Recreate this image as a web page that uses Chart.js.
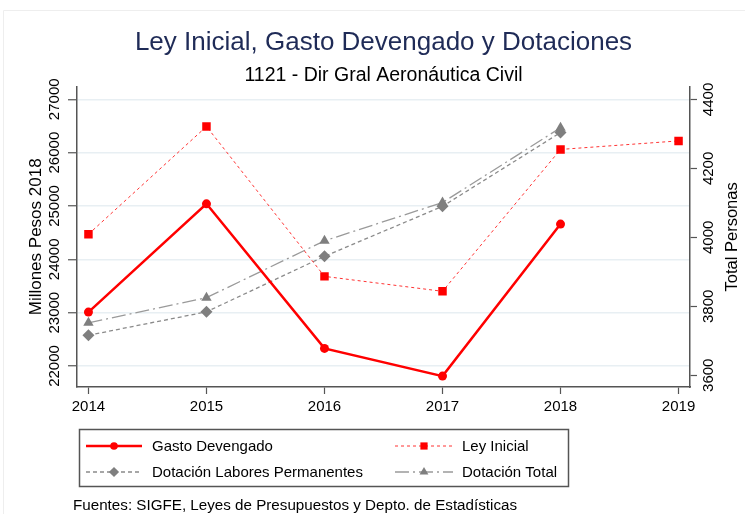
<!DOCTYPE html>
<html>
<head>
<meta charset="utf-8">
<script src="https://cdn.jsdelivr.net/npm/chart.js@4/dist/chart.umd.min.js"></script>
<style>
  html, body { margin: 0; padding: 0; background: #fff; }
  #wrap { position: relative; width: 745px; height: 514px; }
</style>
</head>
<body>
<div id="wrap"><canvas id="c" width="745" height="514"></canvas></div>
<script>
// ---- Data ----
const years = [2014, 2015, 2016, 2017, 2018, 2019];
const gastoDevengado = [23010, 25040, 22330, 21810, 24660, null];        // Millones Pesos 2018
const leyInicial = [24470, 26490, 23680, 23400, 26060, 26220];           // Millones Pesos 2018
const dotacionLaboresPermanentes = [3716, 3784, 3945, 4090, 4304, null]; // Total Personas
const dotacionTotal = [3752, 3825, 3990, 4101, 4318, null];              // Total Personas
const leftTicks = [22000, 23000, 24000, 25000, 26000, 27000];
const rightTicks = [3600, 3800, 4000, 4200, 4400];
const xTicks = [2014, 2015, 2016, 2017, 2018, 2019];

const FONT = "'Liberation Sans', Arial, Helvetica, sans-serif";
const pts = arr => years.map((y, i) => ({ x: y, y: arr[i] }));

const datasets = [
  { label: 'Gasto Devengado', data: pts(gastoDevengado), yAxisID: 'yL',
    borderColor: '#ff0000', backgroundColor: '#ff0000', borderWidth: 2.5,
    pointStyle: 'circle', pointRadius: 4.5, pointBorderWidth: 0, order: 1 },
  { label: 'Ley Inicial', data: pts(leyInicial), yAxisID: 'yL',
    borderColor: '#ff3333', backgroundColor: '#ff0000', borderWidth: 1, borderDash: [3, 3],
    pointStyle: 'rect', pointRadius: 6, pointBorderWidth: 0, order: 2 },
  { label: 'Dotación Labores Permanentes', data: pts(dotacionLaboresPermanentes), yAxisID: 'yR',
    borderColor: '#8a8a8a', backgroundColor: '#7f7f7f', borderWidth: 1.3, borderDash: [4, 3],
    pointStyle: 'rectRot', pointRadius: 6, pointBorderWidth: 0, order: 3 },
  { label: 'Dotación Total', data: pts(dotacionTotal), yAxisID: 'yR',
    borderColor: '#9a9a9a', backgroundColor: '#7f7f7f', borderWidth: 1.3, borderDash: [14, 4, 2, 4],
    pointStyle: 'triangle', pointRadius: 6, pointBorderWidth: 0, order: 4 }
];
datasets.forEach(d => { d.pointBackgroundColor = d.backgroundColor; d.pointHoverRadius = d.pointRadius; d.spanGaps = false; d.fill = false; d.tension = 0; });

const extrasPlugin = {
  id: 'extras',
  beforeDraw(chart) {
    const ctx = chart.ctx;
    ctx.save();
    ctx.strokeStyle = '#eeeeee'; ctx.lineWidth = 1;
    ctx.beginPath(); ctx.moveTo(3.5, 514); ctx.lineTo(3.5, 10.5); ctx.lineTo(745, 10.5); ctx.stroke();
    ctx.restore();
  },
  afterDraw(chart) {
    const ctx = chart.ctx;
    const area = chart.chartArea;
    ctx.save();
    // right axis title (reads bottom-to-top)
    ctx.fillStyle = '#000';
    ctx.font = '16.5px ' + FONT;
    ctx.translate(732.5, (area.top + area.bottom) / 2);
    ctx.rotate(-Math.PI / 2);
    ctx.textAlign = 'center'; ctx.textBaseline = 'middle';
    ctx.fillText('Total Personas', 0, 0);
    ctx.restore();

    // legend box
    ctx.save();
    ctx.strokeStyle = '#555'; ctx.lineWidth = 1.5;
    ctx.strokeRect(79.5, 429.5, 489, 57);
    const slots = [
      { x0: 86, x1: 142, tx: 152, y: 446 },
      { x0: 395, x1: 453, tx: 462, y: 446 },
      { x0: 86, x1: 142, tx: 152, y: 472 },
      { x0: 395, x1: 453, tx: 462, y: 472 }
    ];
    [0, 1, 2, 3].forEach((di, k) => {
      const d = chart.data.datasets[di];
      const s = slots[k];
      ctx.save();
      ctx.strokeStyle = d.borderColor; ctx.lineWidth = d.borderWidth;
      ctx.setLineDash(d.borderDash || []);
      ctx.beginPath(); ctx.moveTo(s.x0, s.y); ctx.lineTo(s.x1, s.y); ctx.stroke();
      ctx.setLineDash([]);
      ctx.fillStyle = d.backgroundColor;
      Chart.helpers.drawPoint(ctx, { pointStyle: d.pointStyle, radius: d.pointRadius * 0.85, rotation: 0, borderWidth: 0 }, (s.x0 + s.x1) / 2, s.y);
      ctx.restore();
      ctx.fillStyle = '#000';
      ctx.font = '15px ' + FONT;
      ctx.textAlign = 'left'; ctx.textBaseline = 'middle';
      ctx.fillText(d.label, s.tx, s.y + 1);
    });
    // footer
    ctx.fillStyle = '#000';
    ctx.font = '15.2px ' + FONT;
    ctx.textAlign = 'left'; ctx.textBaseline = 'middle';
    ctx.fillText('Fuentes: SIGFE, Leyes de Presupuestos y Depto. de Estadísticas', 73, 506);
    ctx.restore();
  }
};

new Chart(document.getElementById('c'), {
  type: 'line',
  data: { datasets },
  plugins: [extrasPlugin],
  options: {
    responsive: false,
    animation: false,
    events: [],
    layout: { padding: { left: 0, right: 0, top: 0, bottom: 0 } },
    plugins: {
      legend: { display: false },
      tooltip: { enabled: false },
      title: {
        display: true, fullSize: false, text: 'Ley Inicial, Gasto Devengado y Dotaciones',
        color: '#1f2b57', font: { family: FONT, size: 26, weight: 'normal', lineHeight: 1.2 },
        padding: { top: 27, bottom: 1 }
      },
      subtitle: {
        display: true, fullSize: false, text: '1121 - Dir Gral Aeronáutica Civil',
        color: '#000', font: { family: FONT, size: 19.5, weight: 'normal', lineHeight: 1.0 },
        padding: { top: 7, bottom: 1 }
      }
    },
    scales: {
      x: {
        type: 'linear', position: 'bottom',
        min: 2014 - 0.097, max: 2019 + 0.097,
        afterBuildTicks: s => { s.ticks = xTicks.map(v => ({ value: v })); },
        afterFit: s => { s.height = 514 - 387; },
        ticks: { color: '#000', font: { family: FONT, size: 15 }, padding: 4, maxRotation: 0, autoSkip: false,
                 callback: v => String(v) },
        grid: { drawOnChartArea: false, drawTicks: true, tickLength: 7, tickColor: '#555', tickWidth: 1.2 },
        border: { display: true, color: '#555', width: 1.5 }
      },
      yL: {
        type: 'linear', position: 'left',
        min: 21606, max: 27236,
        afterBuildTicks: s => { s.ticks = leftTicks.map(v => ({ value: v })); },
        afterFit: s => { s.width = 77; },
        ticks: { color: '#000', font: { family: FONT, size: 15 }, minRotation: 90, maxRotation: 90,
                 crossAlign: 'center', padding: -7.5, callback: v => String(v) },
        grid: { color: '#e8eff3', lineWidth: 1.5, drawTicks: true, tickLength: 9, tickColor: '#555', tickWidth: 1.2 },
        border: { display: true, color: '#555', width: 1.5 },
        title: { display: true, text: 'Millones Pesos 2018', color: '#000',
                 font: { family: FONT, size: 17, lineHeight: 1.2 }, padding: { top: 26, bottom: 0 } }
      },
      yR: {
        type: 'linear', position: 'right',
        min: 3566, max: 4437,
        afterBuildTicks: s => { s.ticks = rightTicks.map(v => ({ value: v })); },
        afterFit: s => { s.width = 55; },
        ticks: { color: '#000', font: { family: FONT, size: 15 }, minRotation: 90, maxRotation: 90,
                 crossAlign: 'center', padding: -4.5, callback: v => String(v) },
        grid: { drawOnChartArea: false, drawTicks: true, tickLength: 7, tickColor: '#555', tickWidth: 1.2 },
        border: { display: true, color: '#555', width: 1.5 }
      }
    }
  }
});
</script>
</body>
</html>
